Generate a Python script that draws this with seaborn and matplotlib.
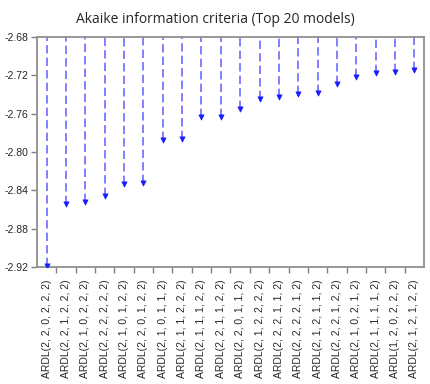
import matplotlib
matplotlib.use('Agg')
import matplotlib.pyplot as plt
import seaborn as sns
import pandas as pd
from matplotlib.ticker import FixedLocator

# Modelos e valores do criterio de Akaike
modelos = [
    'ARDL(2, 2, 0, 2, 2, 2)', 'ARDL(2, 2, 1, 2, 2, 2)', 'ARDL(2, 1, 0, 2, 2, 2)',
    'ARDL(2, 2, 2, 2, 2, 2)', 'ARDL(2, 1, 0, 1, 2, 2)', 'ARDL(2, 2, 0, 1, 2, 2)',
    'ARDL(2, 1, 0, 1, 1, 2)', 'ARDL(2, 1, 1, 2, 2, 2)', 'ARDL(2, 1, 1, 1, 2, 2)',
    'ARDL(2, 2, 1, 1, 2, 2)', 'ARDL(2, 2, 0, 1, 1, 2)', 'ARDL(2, 1, 2, 2, 2, 2)',
    'ARDL(2, 2, 2, 1, 1, 2)', 'ARDL(2, 2, 2, 2, 1, 2)', 'ARDL(2, 1, 2, 1, 1, 2)',
    'ARDL(2, 2, 2, 1, 2, 2)', 'ARDL(2, 1, 0, 2, 1, 2)', 'ARDL(2, 1, 1, 1, 1, 2)',
    'ARDL(1, 2, 0, 2, 2, 2)', 'ARDL(2, 1, 2, 1, 2, 2)',
]
aic = [-2.919, -2.854, -2.852, -2.846, -2.833, -2.832, -2.787, -2.786, -2.764, -2.763,
       -2.755, -2.745, -2.743, -2.740, -2.738, -2.729, -2.722, -2.718, -2.717, -2.714]
y_ticks = [-2.92, -2.88, -2.84, -2.80, -2.76, -2.72, -2.68]
topo = -2.68

df = pd.DataFrame({'modelo': modelos, 'aic': aic})
df['pos'] = range(len(df))

sns.set_style('white')
fig = plt.figure(figsize=(4.31, 3.84), dpi=100)
ax = fig.add_axes([0.0858, 0.3047, 0.898, 0.599])

# Linhas tracejadas do topo ate o valor
ax.vlines(df['pos'], df['aic'], topo, colors='#6b6bff', linestyles=(0, (5, 2.5)), linewidth=1.2, zorder=2)
sns.scatterplot(data=df, x='pos', y='aic', marker='v', color='#1a1aff', s=14,
                edgecolor='#1a1aff', linewidth=0.5, ax=ax, zorder=3, legend=False)

ax.set_xlim(-0.5, len(df) - 0.5)
ax.set_ylim(-2.92, -2.68)
ax.set_yticks(y_ticks)
ax.set_yticklabels([f'{v:.2f}' for v in y_ticks], fontsize=7.5, family='Liberation Sans')
ax.set_xticks(df['pos'])
ax.set_xticklabels(df['modelo'], rotation=90, fontsize=7.5, family='Liberation Sans')
ax.xaxis.set_minor_locator(FixedLocator([i + 0.5 for i in range(len(df) - 1)]))
ax.tick_params(axis='x', which='major', length=0, pad=9)
ax.tick_params(axis='x', which='minor', length=4, color='#808080', width=1, bottom=True)
ax.tick_params(axis='y', length=4, color='#808080', width=1, left=True, pad=2)
ax.set_xlabel('')
ax.set_ylabel('')
for s in ax.spines.values():
    s.set_color('#909090')
    s.set_linewidth(1.3)

fig.suptitle('Akaike information criteria (Top 20 models)', fontsize=10, family='Open Sans', y=0.97)
fig.savefig('out.png', dpi=100)
